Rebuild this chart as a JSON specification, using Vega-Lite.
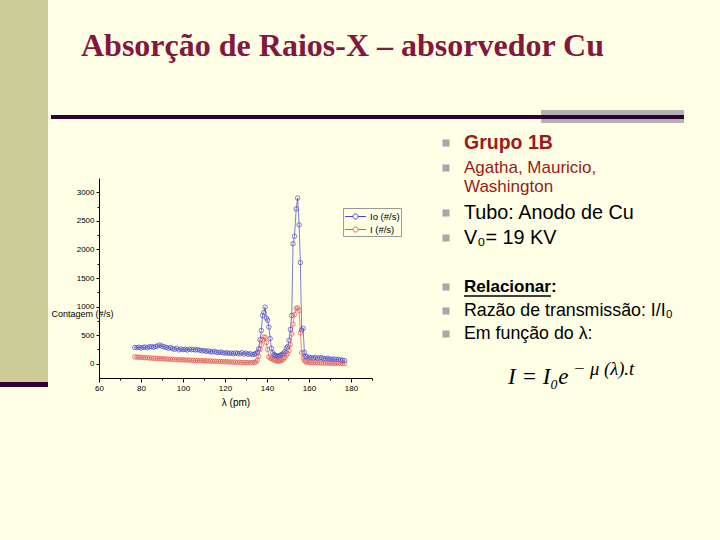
{
 "$schema": "https://vega.github.io/schema/vega-lite/v6.json",
 "background": "#FFFFE5",
 "padding": 0,
 "spacing": 0,
 "config": {"view": {"stroke": null}, "font": "Liberation Sans", "concat": {"spacing": 0}, "axis": {"grid": false}},
 "hconcat": [
  {"spacing": 0, "vconcat": [
   {"width": 48, "height": 382, "view": {"fill": "#CCCC99", "stroke": null}, "data": {"values": []}, "mark": "point", "encoding": {}},
   {"width": 48, "height": 5, "view": {"fill": "#330033", "stroke": null}, "data": {"values": []}, "mark": "point", "encoding": {}}
  ]},
  {"spacing": 0, "vconcat": [
   {"width": 622, "height": 125,
    "data": {"values": [{"t": "Absorção de Raios-X – absorvedor Cu"}]},
    "layer": [
     {"mark": {"type": "rect", "color": "#B2B2B2"},
      "encoding": {
       "x": {"datum": 442, "type": "quantitative", "scale": {"domain": [0, 622], "nice": false, "zero": false}, "axis": null},
       "x2": {"datum": 585},
       "y": {"datum": 110, "type": "quantitative", "scale": {"domain": [0, 125], "nice": false, "zero": false, "reverse": true}, "axis": null},
       "y2": {"datum": 123}}},
     {"mark": {"type": "rule", "color": "#330033", "strokeWidth": 4},
      "encoding": {
       "x": {"datum": -48, "type": "quantitative", "scale": {"domain": [0, 622], "nice": false, "zero": false}, "axis": null},
       "x2": {"datum": 585},
       "y": {"datum": 117, "type": "quantitative", "scale": {"domain": [0, 125], "nice": false, "zero": false, "reverse": true}, "axis": null}}},
     {"mark": {"type": "text", "font": "Liberation Serif", "fontSize": 32, "fontWeight": "bold", "color": "#84173D", "align": "left", "baseline": "alphabetic"},
      "encoding": {
       "x": {"datum": -18, "type": "quantitative", "scale": {"domain": [0, 622], "nice": false, "zero": false}, "axis": null},
       "y": {"datum": 56, "type": "quantitative", "scale": {"domain": [0, 125], "nice": false, "zero": false, "reverse": true}, "axis": null},
       "text": {"field": "t"}}}
    ]},
   {"spacing": 0, "hconcat": [
    {"spacing": 0, "vconcat": [
     {"width": 1, "height": 53, "data": {"values": []}, "mark": "point", "encoding": {}},
     {"width": 273, "height": 200,
      "data": {"values": [
       {"l":77,"Io":285,"I":120},{"l":78,"Io":280,"I":116},{"l":79,"Io":290,"I":112},{"l":80,"Io":275,"I":115},
       {"l":81,"Io":285,"I":108},{"l":82,"Io":292,"I":104},{"l":83,"Io":280,"I":108},{"l":84,"Io":298,"I":99},
       {"l":85,"Io":300,"I":101},{"l":86,"Io":288,"I":94},{"l":87,"Io":302,"I":96},{"l":88,"Io":312,"I":89},
       {"l":89,"Io":328,"I":92},{"l":90,"Io":308,"I":86},{"l":91,"Io":296,"I":88},{"l":92,"Io":286,"I":80},
       {"l":93,"Io":272,"I":83},{"l":94,"Io":282,"I":77},{"l":95,"Io":266,"I":79},{"l":96,"Io":252,"I":72},
       {"l":97,"Io":270,"I":75},{"l":98,"Io":242,"I":68},{"l":99,"Io":256,"I":71},{"l":100,"Io":246,"I":66},
       {"l":101,"Io":252,"I":68},{"l":102,"Io":240,"I":61},{"l":103,"Io":256,"I":64},{"l":104,"Io":246,"I":58},
       {"l":105,"Io":250,"I":61},{"l":106,"Io":240,"I":55},{"l":107,"Io":246,"I":57},{"l":108,"Io":236,"I":52},
       {"l":109,"Io":226,"I":55},{"l":110,"Io":232,"I":50},{"l":111,"Io":216,"I":52},{"l":112,"Io":226,"I":46},
       {"l":113,"Io":210,"I":48},{"l":114,"Io":206,"I":42},{"l":115,"Io":216,"I":45},{"l":116,"Io":200,"I":39},
       {"l":117,"Io":196,"I":41},{"l":118,"Io":206,"I":36},{"l":119,"Io":190,"I":38},{"l":120,"Io":186,"I":33},
       {"l":121,"Io":192,"I":35},{"l":122,"Io":180,"I":30},{"l":123,"Io":186,"I":32},{"l":124,"Io":176,"I":27},
       {"l":125,"Io":190,"I":29},{"l":126,"Io":180,"I":24},{"l":127,"Io":176,"I":26},{"l":128,"Io":194,"I":21},
       {"l":129,"Io":170,"I":24},{"l":130,"Io":184,"I":19},{"l":131,"Io":166,"I":22},{"l":132,"Io":176,"I":18},
       {"l":133,"Io":160,"I":21},{"l":134,"Io":166,"I":24},
       {"l":134.7,"Io":175,"I":30},{"l":135.4,"Io":200,"I":60},{"l":136.0,"Io":260,"I":130},{"l":136.7,"Io":420,"I":250},
       {"l":137.3,"Io":580,"I":330},{"l":137.9,"Io":845,"I":420},{"l":138.5,"Io":895,"I":470},{"l":139.1,"Io":990,"I":460},
       {"l":139.7,"Io":800,"I":370},{"l":140.3,"Io":760,"I":250},{"l":140.9,"Io":640,"I":120},{"l":141.5,"Io":440,"I":100},
       {"l":142.1,"Io":270,"I":90},{"l":142.8,"Io":190,"I":75},{"l":143.4,"Io":160,"I":65},{"l":144.0,"Io":145,"I":55},
       {"l":144.7,"Io":135,"I":50},{"l":145.3,"Io":130,"I":45},{"l":145.9,"Io":140,"I":50},{"l":146.6,"Io":150,"I":55},
       {"l":147.2,"Io":165,"I":65},{"l":147.9,"Io":180,"I":80},{"l":148.5,"Io":210,"I":110},{"l":149.2,"Io":270,"I":150},
       {"l":149.8,"Io":300,"I":180},{"l":150.5,"Io":410,"I":230},{"l":151.1,"Io":600,"I":330},{"l":151.8,"Io":845,"I":520},
       {"l":152.4,"Io":2100,"I":690},{"l":153.1,"Io":2230,"I":860},{"l":153.9,"Io":2710,"I":970},{"l":154.6,"Io":2900,"I":975},
       {"l":155.3,"Io":2430,"I":930},{"l":155.9,"Io":1770,"I":540},{"l":156.5,"Io":590,"I":190},{"l":157.2,"Io":620,"I":100},
       {"l":157.8,"Io":200,"I":55},{"l":158.4,"Io":130,"I":35},
       {"l":159,"Io":120,"I":28},{"l":160,"Io":112,"I":22},{"l":161,"Io":106,"I":20},{"l":162,"Io":100,"I":16},
       {"l":163,"Io":110,"I":19},{"l":164,"Io":96,"I":14},{"l":165,"Io":102,"I":16},{"l":166,"Io":106,"I":12},
       {"l":167,"Io":92,"I":14},{"l":168,"Io":86,"I":10},{"l":169,"Io":96,"I":12},{"l":170,"Io":82,"I":8},
       {"l":171,"Io":76,"I":10},{"l":172,"Io":82,"I":6},{"l":173,"Io":72,"I":8},{"l":174,"Io":76,"I":5},
       {"l":175,"Io":66,"I":6},{"l":176,"Io":60,"I":3},{"l":177,"Io":55,"I":4}
      ]},
      "transform": [{"fold": ["Io", "I"], "as": ["s", "v"]}],
      "mark": {"type": "line", "strokeWidth": 0.7, "point": {"filled": false, "size": 20, "strokeWidth": 0.7}},
      "encoding": {
       "x": {"field": "l", "type": "quantitative",
        "scale": {"domain": [60, 190], "nice": false, "zero": false},
        "axis": {"values": [60,70,80,90,100,110,120,130,140,150,160,170,180,190],
         "labelExpr": "datum.value % 20 == 0 ? datum.label : ''",
         "format": "d",
         "tickSize": {"condition": {"test": "datum.value % 20 == 0", "value": 4}, "value": 2},
         "labelFontSize": 8, "labelPadding": 2, "labelOverlap": false, "labelFlush": false,
         "domainColor": "#000", "tickColor": "#000", "labelColor": "#000",
         "title": "λ (pm)", "titleFontSize": 10, "titleFontWeight": "normal", "titleColor": "#000", "titlePadding": 5}},
       "y": {"field": "v", "type": "quantitative",
        "scale": {"domain": [-250, 3250], "nice": false, "zero": false},
        "axis": {"values": [0,250,500,750,1000,1250,1500,1750,2000,2250,2500,2750,3000],
         "labelExpr": "datum.value % 500 == 0 ? datum.label : ''",
         "format": "d",
         "tickSize": {"condition": {"test": "datum.value % 500 == 0", "value": 3}, "value": 2},
         "labelFontSize": 8, "labelPadding": 2, "labelOverlap": false, "labelFlush": false,
         "domainColor": "#000", "tickColor": "#000", "labelColor": "#000",
         "title": "Contagem (#/s)", "titleAngle": 0, "titleX": -48, "titleY": 135, "titleAlign": "left", "titleBaseline": "middle",
         "titleFontSize": 9, "titleFontWeight": "normal", "titleColor": "#000"}},
       "color": {"field": "s", "type": "nominal",
        "scale": {"domain": ["Io", "I"], "range": ["#4646CC", "#E05858"]},
        "legend": {"orient": "none", "legendX": 343, "legendY": 208, "title": null,
         "labelExpr": "datum.label == 'Io' ? 'Io (#/s)' : 'I (#/s)'",
         "symbolType": "M-1.5,0H-0.36M0.36,0H1.5M-0.36,0A0.36,0.36 0 1,1 0.36,0A0.36,0.36 0 1,1 -0.36,0",
         "symbolSize": 196, "symbolStrokeWidth": 1, "symbolFillColor": "transparent",
         "symbolOffset": 4, "labelOffset": 7,
         "labelFontSize": 9.5, "labelColor": "#000", "padding": 1, "rowPadding": 0,
         "strokeColor": "#999999"}}
      }}
    ]},
    {"width": 340, "height": 415,
     "layer": [
      {"data": {"values": [{"t": "Grupo 1B"}]}, "layer": [
       {"mark": {"type": "square", "filled": true, "color": "#A8A8A8", "size": 50, "opacity": 1},
        "encoding": {"x": {"datum": 73, "type": "quantitative", "scale": {"domain": [0, 340], "nice": false, "zero": false}, "axis": null},
                     "y": {"datum": 18, "type": "quantitative", "scale": {"domain": [0, 415], "nice": false, "zero": false, "reverse": true}, "axis": null}}},
       {"mark": {"type": "text", "align": "left", "baseline": "middle", "fontSize": 19.5, "fontWeight": "bold", "color": "#9C1A1A"},
        "encoding": {"x": {"datum": 91, "type": "quantitative", "scale": {"domain": [0, 340], "nice": false, "zero": false}, "axis": null},
                     "y": {"datum": 18, "type": "quantitative", "scale": {"domain": [0, 415], "nice": false, "zero": false, "reverse": true}, "axis": null},
                     "text": {"field": "t"}}}
      ]},
      {"data": {"values": [{"t": "Agatha, Mauricio,"}]}, "layer": [
       {"mark": {"type": "square", "filled": true, "color": "#A8A8A8", "size": 50, "opacity": 1},
        "encoding": {"x": {"datum": 73, "type": "quantitative", "scale": {"domain": [0, 340], "nice": false, "zero": false}, "axis": null},
                     "y": {"datum": 43, "type": "quantitative", "scale": {"domain": [0, 415], "nice": false, "zero": false, "reverse": true}, "axis": null}}},
       {"mark": {"type": "text", "align": "left", "baseline": "middle", "fontSize": 17, "color": "#9C1A1A"},
        "encoding": {"x": {"datum": 91, "type": "quantitative", "scale": {"domain": [0, 340], "nice": false, "zero": false}, "axis": null},
                     "y": {"datum": 43, "type": "quantitative", "scale": {"domain": [0, 415], "nice": false, "zero": false, "reverse": true}, "axis": null},
                     "text": {"field": "t"}}}
      ]},
      {"data": {"values": [{"t": "Washington"}]},
       "mark": {"type": "text", "align": "left", "baseline": "middle", "fontSize": 17, "color": "#9C1A1A"},
       "encoding": {"x": {"datum": 91, "type": "quantitative", "scale": {"domain": [0, 340], "nice": false, "zero": false}, "axis": null},
                    "y": {"datum": 62, "type": "quantitative", "scale": {"domain": [0, 415], "nice": false, "zero": false, "reverse": true}, "axis": null},
                    "text": {"field": "t"}}},
      {"data": {"values": [{"t": "Tubo: Anodo de Cu"}]}, "layer": [
       {"mark": {"type": "square", "filled": true, "color": "#A8A8A8", "size": 50, "opacity": 1},
        "encoding": {"x": {"datum": 73, "type": "quantitative", "scale": {"domain": [0, 340], "nice": false, "zero": false}, "axis": null},
                     "y": {"datum": 88, "type": "quantitative", "scale": {"domain": [0, 415], "nice": false, "zero": false, "reverse": true}, "axis": null}}},
       {"mark": {"type": "text", "align": "left", "baseline": "middle", "fontSize": 19.8, "color": "#000000"},
        "encoding": {"x": {"datum": 91, "type": "quantitative", "scale": {"domain": [0, 340], "nice": false, "zero": false}, "axis": null},
                     "y": {"datum": 88, "type": "quantitative", "scale": {"domain": [0, 415], "nice": false, "zero": false, "reverse": true}, "axis": null},
                     "text": {"field": "t"}}}
      ]},
      {"data": {"values": [{"t": "V₀= 19 KV"}]}, "layer": [
       {"mark": {"type": "square", "filled": true, "color": "#A8A8A8", "size": 50, "opacity": 1},
        "encoding": {"x": {"datum": 73, "type": "quantitative", "scale": {"domain": [0, 340], "nice": false, "zero": false}, "axis": null},
                     "y": {"datum": 113, "type": "quantitative", "scale": {"domain": [0, 415], "nice": false, "zero": false, "reverse": true}, "axis": null}}},
       {"mark": {"type": "text", "align": "left", "baseline": "middle", "fontSize": 19.8, "color": "#000000"},
        "encoding": {"x": {"datum": 91, "type": "quantitative", "scale": {"domain": [0, 340], "nice": false, "zero": false}, "axis": null},
                     "y": {"datum": 113, "type": "quantitative", "scale": {"domain": [0, 415], "nice": false, "zero": false, "reverse": true}, "axis": null},
                     "text": {"field": "t"}}}
      ]},
      {"data": {"values": [{"t": "Relacionar:"}]}, "layer": [
       {"mark": {"type": "square", "filled": true, "color": "#A8A8A8", "size": 50, "opacity": 1},
        "encoding": {"x": {"datum": 73, "type": "quantitative", "scale": {"domain": [0, 340], "nice": false, "zero": false}, "axis": null},
                     "y": {"datum": 162, "type": "quantitative", "scale": {"domain": [0, 415], "nice": false, "zero": false, "reverse": true}, "axis": null}}},
       {"mark": {"type": "text", "align": "left", "baseline": "middle", "fontSize": 17, "fontWeight": "bold", "color": "#000000"},
        "encoding": {"x": {"datum": 91, "type": "quantitative", "scale": {"domain": [0, 340], "nice": false, "zero": false}, "axis": null},
                     "y": {"datum": 162, "type": "quantitative", "scale": {"domain": [0, 415], "nice": false, "zero": false, "reverse": true}, "axis": null},
                     "text": {"field": "t"}}},
       {"mark": {"type": "rule", "color": "#000000", "strokeWidth": 1.3},
        "encoding": {"x": {"datum": 91, "type": "quantitative", "scale": {"domain": [0, 340], "nice": false, "zero": false}, "axis": null},
                     "x2": {"datum": 178},
                     "y": {"datum": 171, "type": "quantitative", "scale": {"domain": [0, 415], "nice": false, "zero": false, "reverse": true}, "axis": null}}}
      ]},
      {"data": {"values": [{"t": "Razão de transmissão: I/I₀"}]}, "layer": [
       {"mark": {"type": "square", "filled": true, "color": "#A8A8A8", "size": 50, "opacity": 1},
        "encoding": {"x": {"datum": 73, "type": "quantitative", "scale": {"domain": [0, 340], "nice": false, "zero": false}, "axis": null},
                     "y": {"datum": 186, "type": "quantitative", "scale": {"domain": [0, 415], "nice": false, "zero": false, "reverse": true}, "axis": null}}},
       {"mark": {"type": "text", "align": "left", "baseline": "middle", "fontSize": 17.8, "color": "#000000"},
        "encoding": {"x": {"datum": 91, "type": "quantitative", "scale": {"domain": [0, 340], "nice": false, "zero": false}, "axis": null},
                     "y": {"datum": 186, "type": "quantitative", "scale": {"domain": [0, 415], "nice": false, "zero": false, "reverse": true}, "axis": null},
                     "text": {"field": "t"}}}
      ]},
      {"data": {"values": [{"t": "Em função do λ:"}]}, "layer": [
       {"mark": {"type": "square", "filled": true, "color": "#A8A8A8", "size": 50, "opacity": 1},
        "encoding": {"x": {"datum": 73, "type": "quantitative", "scale": {"domain": [0, 340], "nice": false, "zero": false}, "axis": null},
                     "y": {"datum": 209, "type": "quantitative", "scale": {"domain": [0, 415], "nice": false, "zero": false, "reverse": true}, "axis": null}}},
       {"mark": {"type": "text", "align": "left", "baseline": "middle", "fontSize": 17.8, "color": "#000000"},
        "encoding": {"x": {"datum": 91, "type": "quantitative", "scale": {"domain": [0, 340], "nice": false, "zero": false}, "axis": null},
                     "y": {"datum": 209, "type": "quantitative", "scale": {"domain": [0, 415], "nice": false, "zero": false, "reverse": true}, "axis": null},
                     "text": {"field": "t"}}}
      ]},
      {"data": {"values": [{"t": "I = I₀e"}]},
       "mark": {"type": "text", "align": "left", "baseline": "alphabetic", "font": "Liberation Serif", "fontStyle": "italic", "fontSize": 23, "color": "#000000"},
       "encoding": {"x": {"datum": 135, "type": "quantitative", "scale": {"domain": [0, 340], "nice": false, "zero": false}, "axis": null},
                    "y": {"datum": 259, "type": "quantitative", "scale": {"domain": [0, 415], "nice": false, "zero": false, "reverse": true}, "axis": null},
                    "text": {"field": "t"}}},
      {"data": {"values": [{"t": "− μ (λ).t"}]},
       "mark": {"type": "text", "align": "left", "baseline": "alphabetic", "font": "Liberation Serif", "fontStyle": "italic", "fontSize": 18.5, "color": "#000000"},
       "encoding": {"x": {"datum": 200, "type": "quantitative", "scale": {"domain": [0, 340], "nice": false, "zero": false}, "axis": null},
                    "y": {"datum": 250, "type": "quantitative", "scale": {"domain": [0, 415], "nice": false, "zero": false, "reverse": true}, "axis": null},
                    "text": {"field": "t"}}}
     ]}
   ]}
  ]}
 ]
}
